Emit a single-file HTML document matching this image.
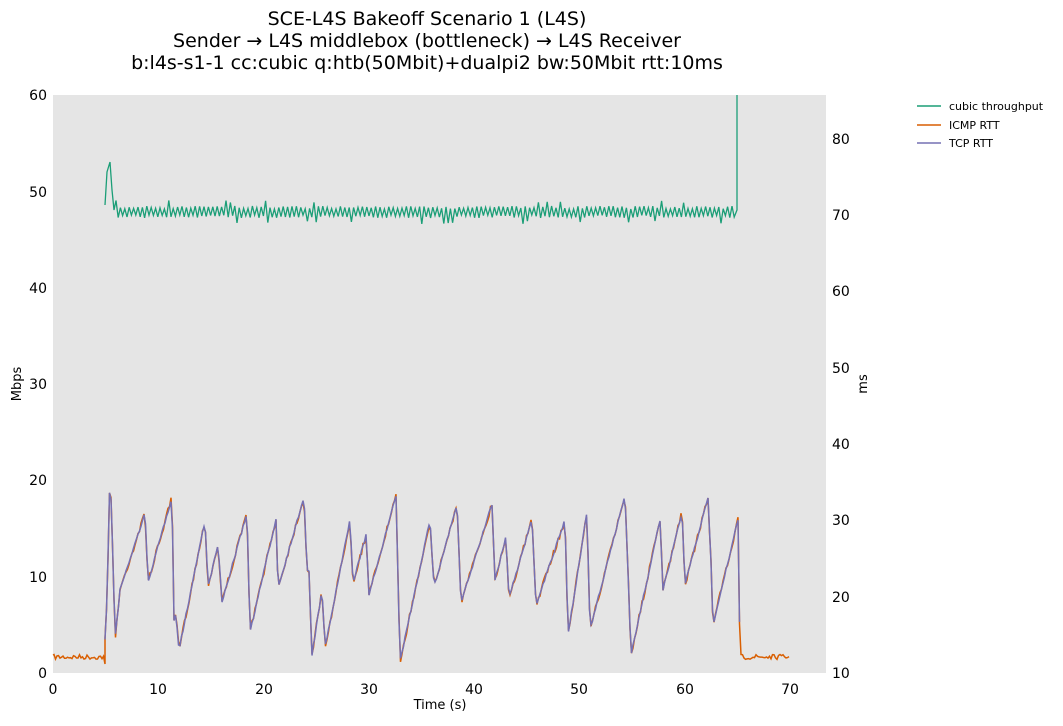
<!DOCTYPE html>
<html><head><meta charset="utf-8"><style>
body{margin:0;background:#fff;}
svg text{font-family:"DejaVu Sans","Liberation Sans",sans-serif;fill:#000;}
</style></head><body>
<svg id="s" width="1063" height="721" xmlns="http://www.w3.org/2000/svg">
<rect x="53" y="95" width="773" height="578" fill="#e5e5e5"/>
<g font-size="19" text-anchor="middle">
<text x="427" y="25">SCE-L4S Bakeoff Scenario 1 (L4S)</text>
<text x="427" y="47">Sender → L4S middlebox (bottleneck) → L4S Receiver</text>
<text x="427" y="69">b:l4s-s1-1 cc:cubic q:htb(50Mbit)+dualpi2 bw:50Mbit rtt:10ms</text>
</g>
<g font-size="14" text-anchor="end">
<text x="47" y="678">0</text><text x="47" y="582">10</text><text x="47" y="485">20</text><text x="47" y="389">30</text><text x="47" y="293">40</text><text x="47" y="197">50</text><text x="47" y="100">60</text>
</g>
<g font-size="14">
<text x="832" y="678">10</text><text x="832" y="602">20</text><text x="832" y="525">30</text><text x="832" y="449">40</text><text x="832" y="373">50</text><text x="832" y="296">60</text><text x="832" y="220">70</text><text x="832" y="144">80</text>
</g>
<g font-size="14" text-anchor="middle">
<text x="53" y="694">0</text><text x="158" y="694">10</text><text x="264" y="694">20</text><text x="369" y="694">30</text><text x="474" y="694">40</text><text x="579" y="694">50</text><text x="685" y="694">60</text><text x="790" y="694">70</text>
</g>
<text x="440" y="709" font-size="13" text-anchor="middle">Time (s)</text>
<text transform="translate(21,384) rotate(-90)" font-size="13" text-anchor="middle">Mbps</text>
<text transform="translate(867,384) rotate(-90)" font-size="13" text-anchor="middle">ms</text>
<g font-size="11">
<line x1="917" y1="106" x2="941" y2="106" stroke="#1b9e77" stroke-width="1.5"/><text x="949" y="110">cubic throughput</text>
<line x1="917" y1="125" x2="941" y2="125" stroke="#d95f02" stroke-width="1.5"/><text x="949" y="129">ICMP RTT</text>
<line x1="917" y1="143" x2="941" y2="143" stroke="#7570b3" stroke-width="1.5"/><text x="949" y="147">TCP RTT</text>
</g>
<path id="icmp" fill="none" stroke="#d95f02" stroke-width="1.5"/>
<path id="tcp" fill="none" stroke="#7570b3" stroke-width="1.5"/>
<path id="thr" fill="none" stroke="#1b9e77" stroke-width="1.3"/>
</svg>
<script>
var seed=7;function r(){seed=(seed*16807)%2147483647;return seed/2147483647;}
var k=[[105,640],[107,600],[110,470],[113,560],[115,640],[120,590],[145,513],[148,582],[172,497],[174,620],[176,615],[179,650],[205,520],[208,587],[218,545],[222,602],[247,513],[250,632],[276,519],[278,588],[304,497],[307,571],[309,572],[312,655],[322,590],[325,648],[350,520],[353,583],[366,535],[369,595],[396,496],[400,662],[430,520],[434,587],[457,504],[461,603],[492,504],[495,580],[506,537],[509,598],[532,519],[536,605],[565,520],[568,635],[587,512],[590,630],[625,495],[628,570],[631,655],[660,520],[663,590],[682,512],[685,585],[708,497],[711,563],[713,625],[738,520],[740,657]];
function interp(x){for(var i=0;i<k.length-1;i++){if(x>=k[i][0]&&x<=k[i+1][0]){var t=(x-k[i][0])/(k[i+1][0]-k[i][0]||1);return k[i][1]+t*(k[i+1][1]-k[i][1]);}}return 657;}
var a="M53 655",b="";
for(var x=54;x<105;x+=1.5)a+=" L"+x+" "+(657+(r()-0.5)*5).toFixed(1);
a+=" L105 664";
for(var x=105;x<=740;x+=1.5){var y=interp(x);a+=" L"+x+" "+(y+(r()-0.5)*6).toFixed(1);b+=(b?" L":"M")+x+" "+(y+(r()-0.5)*3).toFixed(1);}
for(var x=741;x<=790;x+=1.5)a+=" L"+x+" "+(657+(r()-0.5)*5).toFixed(1);
document.getElementById("icmp").setAttribute("d",a);
document.getElementById("tcp").setAttribute("d",b);
var t="M105 205 L107 172 L110 162 L112 190 L114 210";var s=1;
for(var x=116;x<=736;x+=2.2){s=-s;var amp=3+r()*3+(r()<0.08?6:0);t+=" L"+x.toFixed(1)+" "+(212+s*amp).toFixed(1);}
t+=" L737 210 L737 95";
document.getElementById("thr").setAttribute("d",t);
</script>
</body></html>
